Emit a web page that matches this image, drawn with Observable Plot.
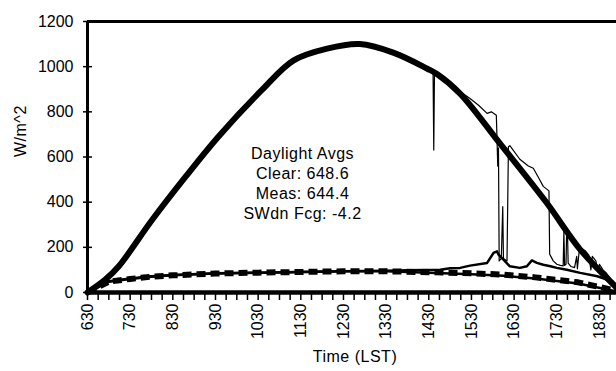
<!DOCTYPE html>
<html><head><meta charset="utf-8">
<script src="https://cdn.jsdelivr.net/npm/d3@7"></script>
<script src="https://cdn.jsdelivr.net/npm/@observablehq/plot@0.6"></script>
<style>
html,body{margin:0;padding:0;background:#fff;}
#chart svg{display:block;}
#chart text{font-family:"Liberation Sans",Arial,sans-serif;}
#chart .ann text, #chart .ttl text{letter-spacing:0.5px;}
</style></head><body><div id="chart"></div>
<script>
// Tick labels (HHMM, LST)
const tickLabels = ["630","730","830","930","1030","1130","1230","1330","1430","1530","1630","1730","1830"];
const yTicks = [0,200,400,600,800,1000,1200];
const annotationLines = ["Daylight Avgs", "Clear: 648.6", "Meas: 644.4", "SWdn Fcg: -4.2"];

// Clear-sky total shortwave (time HHMM, W/m^2)
const clearTime = [630, 655, 714, 801, 848, 934, 1035, 1120, 1207, 1253, 1340, 1428, 1441, 1514, 1610, 1716, 1803, 1854];
const clearVal  = [0,   57,  116, 322, 513, 690, 896,  1028, 1080, 1100, 1062, 991,  969,  881,  660,  396,  190,  22];

// Measured total shortwave
const measTime = [630, 655, 714, 801, 848, 934, 1035, 1120, 1207, 1253, 1340, 1428, 1436, 1437, 1438, 1441, 1455, 1514, 1528, 1540, 1552, 1558, 1605, 1607, 1608, 1609, 1612, 1614, 1615, 1620, 1622, 1624, 1638, 1650, 1657, 1705, 1711, 1719, 1720, 1725, 1730, 1735, 1739, 1740, 1741, 1743, 1744, 1745, 1746, 1750, 1755, 1758, 1759, 1802, 1805, 1810, 1815, 1818, 1820, 1825, 1828, 1830, 1835, 1840, 1845, 1854];
const measVal  = [0,   57,  116, 322, 513, 690, 896,  1028, 1080, 1100, 1062, 991,  975,  631,  972,  969,  935,  890,  859,  829,  793,  800,  785,  560,  640,  140,  150,  380,  150,  140,  645,  650,  590,  560,  550,  505,  470,  450,  170,  140,  125,  120,  118,  270,  120,  125,  285,  280,  130,  115,  110,  160,  105,  198,  195,  185,  165,  100,  160,  140,  90,   125,  100,  85,   65,   0];

// Measured diffuse
const mdTime = [630, 645, 700, 730, 800, 830, 930, 1030, 1130, 1230, 1330, 1400, 1446, 1500, 1514, 1528, 1552, 1601, 1606, 1608, 1615, 1624, 1638, 1648, 1655, 1702, 1711, 1721, 1730, 1744, 1803, 1827, 1848, 1854];
const mdVal  = [0,   35,  50,  62,  72,  78,  85,  88,   91,   94,   96,   98,   101,  107,  109,  119,  131,  175,  182,  168,  146,  116,  109,  116,  142,  131,  123,  116,  109,  101,  87,   72,   50,   25];

// Clear-sky diffuse (dashed)
const cdTime = [630, 700, 730, 800, 830, 930, 1030, 1130, 1230, 1330, 1430, 1530, 1615, 1700, 1800, 1854];
const cdVal  = [0,   48,  60,  70,  76,  84,  88,   91,   94,   94,   90,   85,   79,   67,   45,   8];

// Model diffuse (solid, lower)
const modTime = [630, 700, 730, 800, 830, 930, 1030, 1130, 1230, 1330, 1430, 1530, 1615, 1700, 1800, 1854];
const modVal  = [0,   48,  60,  70,  76,  84,  88,   91,   94,   94,   88,   81,   74,   62,   40,   5];

const hhmm = v => Math.floor(v / 100) + (v % 100) / 60;
const series = (t, v) => t.map((d, i) => ({t: hhmm(d), v: v[i]}));
const clear = series(clearTime, clearVal);
const meas = series(measTime, measVal);
const md = series(mdTime, mdVal);
const cd = series(cdTime, cdVal);
const mod = series(modTime, modVal);

const majorTicks = tickLabels.map(s => hhmm(+s));
const labelOf = new Map(majorTicks.map((h, i) => [Math.round(h * 4), tickLabels[i]]));
const allTicks = d3.range(majorTicks[0] * 4, (majorTicks[majorTicks.length - 1] + 0.25) * 4 + 1).map(k => k / 4);

const chart = Plot.plot({
  width: 616, height: 371,
  marginLeft: 87, marginRight: 0, marginTop: 21, marginBottom: 79,
  style: {fontFamily: "Liberation Sans, Arial, sans-serif", fontSize: "16px", background: "white", color: "black", overflow: "visible"},
  x: {domain: [6.5, 18.9]},
  y: {domain: [0, 1200]},
  marks: [
    Plot.axisY({ticks: yTicks, tickSize: 9, tickPadding: 10, dx: 5, label: null, fontSize: 16, strokeWidth: 1.5, tickFormat: d => String(d)}),
    Plot.axisX({ticks: allTicks, tickSize: 8, tickPadding: 3, tickRotate: -90, label: null, fontSize: 16, strokeWidth: 1.5,
      tickFormat: d => labelOf.get(Math.round(d * 4)) ?? ""}),
    Plot.line(mod, {x: "t", y: "v", stroke: "black", strokeWidth: 2.5}),
    Plot.line(md, {x: "t", y: "v", stroke: "black", strokeWidth: 2.5}),
    Plot.line(cd, {x: "t", y: "v", stroke: "black", strokeWidth: 6, strokeDasharray: "9,5", strokeLinecap: "butt"}),
    Plot.line(clear, {x: "t", y: "v", stroke: "black", strokeWidth: 6, curve: "catmull-rom"}),
    Plot.line(meas, {x: "t", y: "v", stroke: "black", strokeWidth: 1.2}),
    Plot.ruleY([1200], {stroke: "black", strokeWidth: 3}),
    Plot.ruleX([6.5], {stroke: "black", strokeWidth: 3}),
    Plot.ruleY([0], {stroke: "black", strokeWidth: 4.5}),
    Plot.text([annotationLines.join("\n")], {x: 11.54, y: 488, lineHeight: 1.26, fontSize: 16, fill: "black", className: "ann"}),
    Plot.text(["W/m^2"], {frameAnchor: "left", rotate: -90, dx: -66.5, fontSize: 16, fill: "black", className: "ttl"}),
    Plot.text(["Time (LST)"], {frameAnchor: "bottom", dy: 69, dx: 3, fontSize: 16, fill: "black", className: "ttl"})
  ]
});
document.getElementById("chart").append(chart);
</script></body></html>
